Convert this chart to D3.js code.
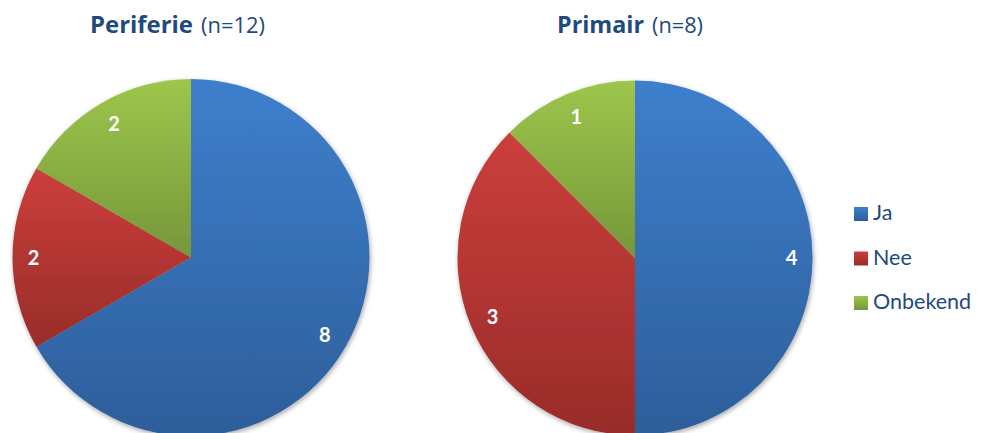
<!DOCTYPE html>
<html><head><meta charset="utf-8">
<script src="https://cdn.jsdelivr.net/npm/d3@7"></script>
<style>html,body{margin:0;padding:0;background:#fff;}svg{display:block;}</style>
</head><body>
<svg id="chart" width="988" height="433"></svg>
<script>
const categories = ["Ja", "Nee", "Onbekend"];
const periferieValues = [8, 2, 2];
const primairValues = [4, 3, 1];
const chartTitles = ["Periferie", "Primair"];
const chartCounts = ["(n=12)", "(n=8)"];

const colorTop = ["#3e7fcc", "#cc3f3c", "#9dc64b"];
const colorBottom = ["#2d5e9a", "#982c29", "#76963a"];
const titleColor = "#1f4a7e";
const FONT = "Lato, 'Open Sans', sans-serif";
const TITLE_FONT = "'Open Sans', Lato, sans-serif";

const svg = d3.select("#chart");
const defs = svg.append("defs");
categories.forEach((c, i) => {
  const g = defs.append("linearGradient").attr("id", "grad" + i)
    .attr("x1", 0).attr("y1", 0).attr("x2", 0).attr("y2", 1);
  g.append("stop").attr("offset", "0%").attr("stop-color", colorTop[i]);
  g.append("stop").attr("offset", "100%").attr("stop-color", colorBottom[i]);
});
const f = defs.append("filter").attr("id", "shadow").attr("x", "-10%").attr("y", "-10%").attr("width", "120%").attr("height", "120%");
f.append("feDropShadow").attr("dx", 1).attr("dy", 2).attr("stdDeviation", 2.5).attr("flood-color", "#000").attr("flood-opacity", 0.35);

const color = d3.scaleOrdinal().domain(categories).range(categories.map((c, i) => "url(#grad" + i + ")"));

const pies = [
  {values: periferieValues, cx: 191, cy: 257.5, r: 178.5, tx: 90, tw: 103, cw: 64},
  {values: primairValues, cx: 635, cy: 258, r: 177.5, tx: 557, tw: 87, cw: 51}
];

const pie = d3.pie().sort(null).value(d => d.v);
const labelHalfW = 6, labelHalfH = 7.5, labelPad = 15;

pies.forEach((p, k) => {
  const data = categories.map((c, i) => ({c, v: p.values[i]}));
  const arcs = pie(data);
  const arc = d3.arc().innerRadius(0).outerRadius(p.r);
  const g = svg.append("g").attr("transform", `translate(${p.cx},${p.cy})`);
  const slices = g.append("g").attr("filter", "url(#shadow)");
  slices.selectAll("path").data(arcs).join("path")
    .attr("d", arc)
    .attr("fill", d => color(d.data.c));
  g.selectAll("text.lbl").data(arcs).join("text")
    .attr("class", "lbl")
    .attr("transform", d => {
      const a = (d.startAngle + d.endAngle) / 2;
      const ux = Math.sin(a), uy = -Math.cos(a);
      const dist = p.r - labelPad - (Math.abs(ux) * labelHalfW + Math.abs(uy) * labelHalfH);
      return `translate(${ux * dist},${uy * dist})`;
    })
    .attr("text-anchor", "middle")
    .attr("dy", "0.36em")
    .attr("fill", "#fff")
    .attr("font-family", FONT)
    .attr("font-weight", "bold")
    .attr("font-size", 20)
    .text(d => d.data.v);

  svg.append("text")
    .attr("x", p.tx).attr("y", 33.3)
    .attr("fill", titleColor)
    .attr("font-family", TITLE_FONT)
    .attr("font-weight", "bold")
    .attr("font-size", 23.5)
    .attr("textLength", p.tw).attr("lengthAdjust", "spacingAndGlyphs")
    .text(chartTitles[k]);
  svg.append("text")
    .attr("x", p.tx + p.tw + 8).attr("y", 33.3)
    .attr("fill", titleColor)
    .attr("font-family", TITLE_FONT)
    .attr("font-size", 21)
    .attr("textLength", p.cw).attr("lengthAdjust", "spacingAndGlyphs")
    .text(chartCounts[k]);
});

const legend = svg.append("g").attr("transform", "translate(854,207)");
const li = legend.selectAll("g").data(categories).join("g")
  .attr("transform", (d, i) => `translate(0,${i * 44.5})`);
li.append("rect").attr("width", 14).attr("height", 14).attr("fill", d => color(d));
li.append("text").attr("x", 19).attr("y", 13.3)
  .attr("fill", titleColor)
  .attr("font-family", FONT)
  .attr("font-size", 21.5)
  .text(d => d);
</script>
</body></html>
